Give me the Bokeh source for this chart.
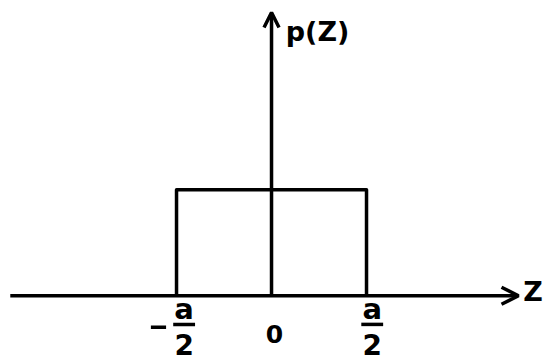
from bokeh.plotting import figure
from bokeh.models import Arrow, OpenHead, ColumnDataSource
from bokeh.core.properties import value
from bokeh.embed import file_html
from bokeh.resources import INLINE

# Uniform density of width a centred at zero (a = 2 here, so height 1/a)
a = 2.0
z_edges = [-a / 2, a / 2]
density = 1.0 / a

# Axis extents in data units
x_axis_start, x_axis_end = -2.75, 2.6
y_axis_end = 1.336

tick_positions = [-a / 2, 0.0, a / 2]

FONT = value("DejaVu Sans")
INK = "black"
LW = 3.5

p = figure(width=543, height=361, output_backend="svg", toolbar_location=None,
           x_range=(-2.853, 2.863), y_range=(-0.31, 1.393),
           min_border=0, outline_line_color=None)
p.axis.visible = False
p.grid.visible = False
p.background_fill_color = "white"
p.border_fill_color = "white"

# Horizontal (Z) axis with arrow
p.add_layout(Arrow(x_start=x_axis_start, y_start=0, x_end=x_axis_end, y_end=0,
                   line_width=LW, line_color=INK,
                   end=OpenHead(size=17, line_width=LW, line_color=INK)))
# Vertical p(Z) axis with arrow
p.add_layout(Arrow(x_start=0, y_start=0, x_end=0, y_end=y_axis_end,
                   line_width=LW, line_color=INK,
                   end=OpenHead(size=15, line_width=LW, line_color=INK)))

# Rectangle of the density
rect_x = [z_edges[0], z_edges[0], z_edges[1], z_edges[1]]
rect_y = [0, density, density, 0]
p.line(rect_x, rect_y, line_width=LW, line_color=INK, line_join="round")

# Axis titles
p.text(x=[0.15], y=[1.245], text=["p(Z)"], text_font=FONT, text_font_size="27px",
       text_font_style="bold", text_color=INK, text_baseline="middle",
       text_align="left")
p.text(x=[2.855], y=[0.02], text=["Z"], text_font=FONT, text_font_size="27px",
       text_font_style="bold", text_color=INK, text_baseline="middle",
       text_align="right")

# Tick labels: -a/2, 0, a/2 written as fractions
frac_src = ColumnDataSource(dict(x=[tick_positions[0] + 0.08, tick_positions[2] + 0.06]))
p.text(x="x", y=-0.062, text=value("a"), source=frac_src, text_font=FONT,
       text_font_size="29px", text_font_style="bold", text_color=INK,
       text_align="center", text_baseline="middle")
p.text(x="x", y=-0.232, text=value("2"), source=frac_src, text_font=FONT,
       text_font_size="28px", text_font_style="bold", text_color=INK,
       text_align="center", text_baseline="middle")
p.segment(x0=[x - 0.115 for x in frac_src.data["x"]], y0=-0.135,
          x1=[x + 0.115 for x in frac_src.data["x"]], y1=-0.135,
          line_width=LW, line_color=INK)
# minus sign for the left fraction
p.segment(x0=[tick_positions[0] - 0.27], y0=[-0.148], x1=[tick_positions[0] - 0.11],
          y1=[-0.148], line_width=LW, line_color=INK)
p.text(x=[tick_positions[1] + 0.03], y=[-0.178], text=["0"], text_font=FONT,
       text_font_size="25px", text_font_style="bold", text_color=INK,
       text_align="center", text_baseline="middle")

open("out.html", "w").write(file_html(p, INLINE))
